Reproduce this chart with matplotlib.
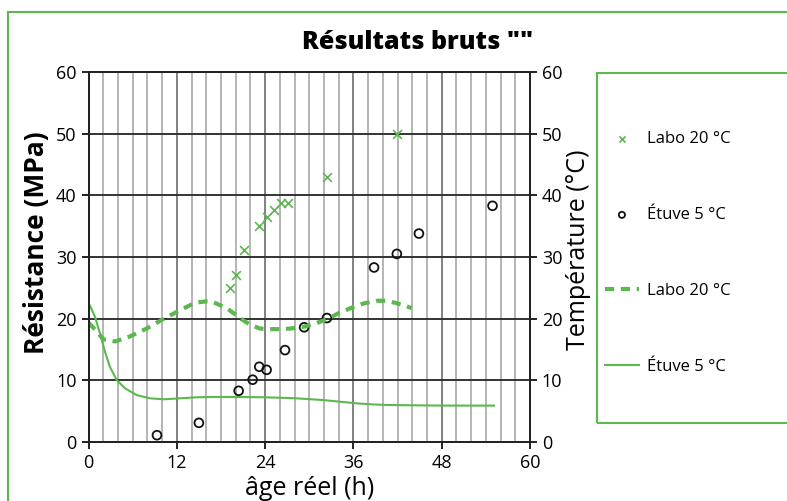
import numpy as np
import matplotlib
matplotlib.use('Agg')
import matplotlib.pyplot as plt
from matplotlib.patches import Rectangle
from matplotlib.ticker import MultipleLocator

plt.rcParams['font.family'] = ['Open Sans', 'DejaVu Sans']

GREEN = '#5cb84e'

# resistance measurements (h, MPa)
labo_age = [19.2, 20.1, 21.1, 23.2, 24.3, 25.2, 26.2, 27.1, 32.4, 41.9]
labo_res = [25.0, 27.0, 31.2, 35.0, 36.5, 37.7, 38.8, 38.7, 42.9, 49.9]

etuve_age = [9.3, 15.0, 20.4, 22.3, 23.2, 24.2, 26.7, 29.3, 32.4, 38.8, 41.9, 44.9, 54.9]
etuve_res = [1.1, 3.1, 8.3, 10.1, 12.2, 11.7, 14.9, 18.6, 20.1, 28.3, 30.5, 33.8, 38.3]

# temperature records (h, °C)
labo_t_age = [0.0, 0.9, 2.0, 3.6, 5.6, 7.9, 9.95, 12.0, 14.5, 16.0, 17.0, 18.8, 20.8,
              22.0, 23.3, 24.5, 26.0, 27.5, 29.3, 30.8, 32.4, 34.0, 36.0, 37.5, 39.2,
              40.5, 41.9, 43.0, 43.9]
labo_temp = [19.35, 18.2, 16.65, 16.3, 17.1, 18.4, 19.8, 21.1, 22.6, 22.8, 22.65, 21.7,
             19.9, 19.0, 18.4, 18.3, 18.3, 18.4, 18.7, 19.2, 19.9, 20.9, 21.9, 22.5, 22.9,
             22.9, 22.5, 22.1, 21.7]

etuve_t_age = [0.0, 0.88, 1.56, 2.24, 2.9, 3.83, 4.96, 6.55, 8.36, 10.2, 12.4, 14.7,
               17.0, 20.0, 23.8, 28.0, 31.9, 34.0, 36.4, 38.5, 40.5, 44.0, 48.7, 55.1]
etuve_temp = [22.6, 20.3, 17.6, 14.6, 12.2, 10.05, 8.7, 7.6, 7.08, 6.92, 7.08, 7.25,
              7.3, 7.3, 7.25, 7.1, 6.8, 6.55, 6.27, 6.1, 6.0, 5.95, 5.9, 5.9]

fig = plt.figure(figsize=(7.87, 5.01), dpi=100)
ax = fig.add_axes([0.1125, 0.1178, 0.561, 0.7385])
ax2 = ax.twinx()

ax.set_xlim(0, 60)
ax.set_ylim(0, 60)
ax2.set_ylim(0, 60)
ax.xaxis.set_major_locator(MultipleLocator(12))
ax.xaxis.set_minor_locator(MultipleLocator(2))
ax.yaxis.set_major_locator(MultipleLocator(10))
ax2.yaxis.set_major_locator(MultipleLocator(10))

ax.grid(which='minor', axis='x', color='#b0b0b0', lw=1.3)
ax.grid(which='major', axis='x', color='#777777', lw=1.3)
ax.grid(which='major', axis='y', color='#333333', lw=1.4)
ax.set_axisbelow(True)
ax.tick_params(which='minor', length=0)
ax.tick_params(which='major', length=5, width=1.4, labelsize=13, color='#222222')
ax2.tick_params(which='major', length=5, width=1.4, labelsize=13, color='#222222')
for a in (ax, ax2):
    for s in a.spines.values():
        s.set_linewidth(1.4)
        s.set_color('#222222')

h1 = ax.scatter(labo_age, labo_res, marker='x', s=40, color=GREEN, lw=1.2, zorder=3,
                label='Labo 20 °C')
h2 = ax.scatter(etuve_age, etuve_res, marker='o', s=40, facecolors='none',
                edgecolors='#111111', lw=1.3, zorder=3, label='Étuve 5 °C')
h3, = ax2.plot(labo_t_age, labo_temp, color=GREEN, lw=3, ls=(0, (2.2, 1.6)),
               label='Labo 20 °C')
h4, = ax2.plot(etuve_t_age, etuve_temp, color=GREEN, lw=1.5, label='Étuve 5 °C')

ax.set_xlabel('âge réel (h)', fontsize=18, labelpad=3)
ax.set_ylabel('Résistance (MPa)', fontsize=19, fontweight='bold')
ax.yaxis.set_label_coords(-0.088, 0.54)
ax2.set_ylabel('Température (°C)', fontsize=18)
ax2.yaxis.set_label_coords(1.081, 0.52)
fig.text(0.531, 0.916, 'Résultats bruts ""', fontsize=18, fontweight='heavy',
         ha='center', va='center')

# outer frame and legend box
fig.patches.append(Rectangle((0.0102, -0.1), 1.2, 1.076, transform=fig.transFigure,
                             fill=False, ec=GREEN, lw=1.5))
fig.patches.append(Rectangle((0.7586, 0.1557), 0.4, 0.6986, transform=fig.transFigure,
                             fill=False, ec=GREEN, lw=1.5))

fig.legend(handles=[h1, h2, h3, h4], loc='upper left', bbox_to_anchor=(0.750, 0.768),
           frameon=False, fontsize=12, labelspacing=3.6, handlelength=2.0,
           handletextpad=0.5, markerscale=0.7)

fig.savefig('out.png', dpi=100)
